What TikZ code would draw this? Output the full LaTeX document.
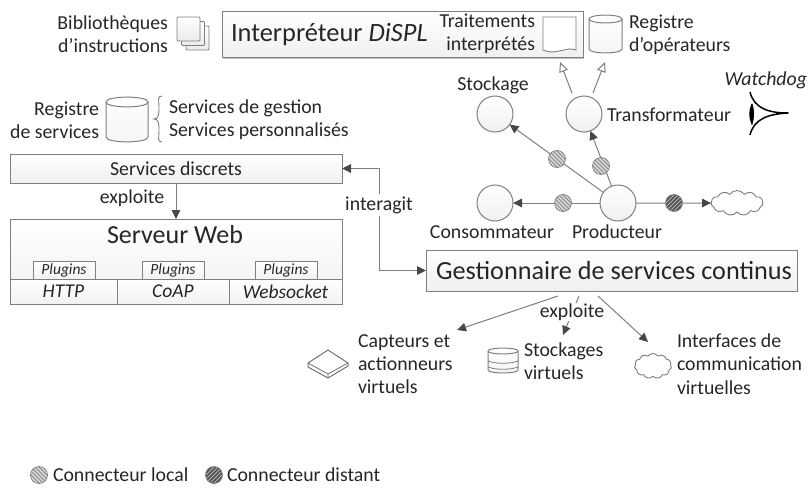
\documentclass[tikz,border=0pt]{standalone}
\usepackage{fontspec}
\setmainfont{Carlito}
\usetikzlibrary{arrows.meta,shapes.geometric,shapes.symbols,shadows,calc}
\definecolor{ln}{HTML}{7F7F7F}
\definecolor{txt}{HTML}{262626}
\newcommand{\fsz}[1]{\fontsize{#1}{23.3}\selectfont}
% left, top, right, bottom, ellipse half height
\newcommand{\cylico}[5]{%
 \draw[draw=ln,line width=1pt,top color=white,bottom color=black!4]
  (#1,#2+#5) .. controls (#1,#2-#5*.3) and (#3,#2-#5*.3) .. (#3,#2+#5) -- (#3,#4-#5)
  .. controls (#3,#4+#5*.3) and (#1,#4+#5*.3) .. (#1,#4-#5) -- cycle;
 \draw[draw=ln,line width=1pt] (#1,#2+#5) .. controls (#1,#2+#5*2.3) and (#3,#2+#5*2.3) .. (#3,#2+#5);}
\tikzset{
 x=1pt,y=-1pt,
 every node/.style={text=txt,inner sep=0pt,outer sep=0pt},
 lbl/.style={font=\fsz{19.8}},
 box/.style={draw=ln,line width=1pt,top color=white,bottom color=black!6,anchor=north west,
   general shadow={fill=black!25,shadow xshift=1pt,shadow yshift=-1pt}},
 flat/.style={draw=ln,line width=1pt,top color=white,bottom color=black!5,anchor=north west},
 round/.style={circle,draw=ln,line width=1pt,minimum size=36pt,top color=white,bottom color=black!6},
 conn/.style={->,>={Triangle[length=9pt,width=8.5pt,color=black!72]},draw=ln,line width=1pt},
 hollow/.style={-{Triangle[open,length=10pt,width=9pt,fill=white]},draw=ln,line width=1pt},
 hatchl/.style={circle,minimum size=17pt,draw=ln,line width=.7pt,fill=black!12,
   path picture={\foreach \k in {-30,-26,...,10}{\draw[line width=1.4pt,black!42]
     ([xshift=\k pt,yshift=14pt]path picture bounding box.center) -- ([xshift=\k pt+28pt,yshift=-14pt]path picture bounding box.center);}}},
 hatchd/.style={circle,minimum size=17pt,draw=ln,line width=.7pt,fill=black!68,
   path picture={\foreach \k in {-30,-26,...,10}{\draw[line width=1pt,black!30]
     ([xshift=\k pt+28pt,yshift=14pt]path picture bounding box.center) -- ([xshift=\k pt,yshift=-14pt]path picture bounding box.center);}}},
 nuage/.style={cloud,cloud puffs=11,cloud puff arc=110,aspect=2,draw=ln,line width=.9pt,fill=white},
}
\begin{document}
\begin{tikzpicture}
\useasboundingbox (0,0) rectangle (808,487);
% Interpreter
\node[box,minimum width=361pt,minimum height=46pt] (interp) at (222,12) {};
\node[anchor=west,font=\fsz{26.4}] (interpt) at (231,35) {Interpréteur \textit{DiSPL}};
\node[lbl,anchor=east,align=right] (trait) at (535,34) {Traitements\\interprétés};
\draw[draw=ln,line width=.9pt,fill=white] (543,17) -- (576,17) -- (576,50) .. controls (566,46) and (556,56) .. (543,50) -- cycle;
\cylico{589}{15}{622}{53}{4}
\node[lbl,anchor=west,align=left] (regopt) at (629,35) {Registre\\d’opérateurs};
% Library
\node[lbl,anchor=east,align=right] (bib) at (168,34) {Bibliothèques\\d’instructions};
\foreach \d in {2,1,0}{
 \draw[draw=ln,line width=.9pt,rounded corners=1pt,top color=white,bottom color=black!8]
  ($(177,17)+(\d*4.5,\d*4.5)$) rectangle ($(200,41)+(\d*4.5,\d*4.5)$);}
% Service registry
\node[lbl,anchor=east,align=right] (regs) at (99,120) {Registre\\de services};
\cylico{106}{97}{148}{142}{5}
\draw[draw=ln,line width=.9pt] (162,96) .. controls (157,96) and (159,100) .. (159,108) .. controls (159,116) and (158,119) .. (154,119) .. controls (158,119) and (159,122) .. (159,130) .. controls (159,138) and (157,142) .. (162,142);
\node[lbl,anchor=west,align=left] (servs) at (169,120) {Services de gestion\\Services personnalisés};
% Left stack
\node[box,minimum width=332pt,minimum height=29pt,font=\fsz{19.8}] (sd) at (10,154) {Services discrets};
\node[box,minimum width=332pt,minimum height=85pt] (web) at (10,219) {};
\node[font=\fsz{26}] (webt) at (175,235) {Serveur Web};
\foreach \n/\xa in {pa/33,pb/142,pc/255}{
 \node[flat,minimum width=62pt,minimum height=18pt,font=\fsz{15.5}\itshape] (\n) at (\xa,261) {Plugins};}
\node[flat,minimum width=107pt,minimum height=25pt,font=\fsz{19.5}\itshape] (http) at (10,279) {HTTP};
\node[flat,minimum width=112pt,minimum height=25pt,font=\fsz{19.5}\itshape] (coap) at (117,279) {CoAP};
\node[flat,minimum width=113pt,minimum height=25pt,font=\fsz{19.5}\itshape] (ws) at (229,279) {Websocket};
\draw[conn] (sd.south -| 176,183) -- (web.north -| 176,219);
\node[lbl] (exp1) at (132,198) {exploite};
% Gestionnaire
\node[box,minimum width=371pt,minimum height=41pt] (gest) at (426,250) {};
\node[anchor=center,font=\fsz{26.2}] (gestt) at (614,270) {Gestionnaire de services continus};
\node[lbl,fill=white,inner sep=2pt] (inter) at (379,205) {interagit};
\draw[conn] (inter.north) |- (sd.east);
\draw[conn] (inter.south) |- (gest.west);
% Operators
\node[round] (stock) at (495,114) {};
\node[round] (trans) at (584,114) {};
\node[round] (cons) at (495,203) {};
\node[round] (prod) at (618,203) {};
\node[nuage,minimum width=52pt,minimum height=25pt] (nu) at (737,203) {};
\draw[conn] (prod) -- (stock);
\draw[conn] (prod) -- (trans);
\draw[conn] (prod) -- (cons);
\draw[conn] (prod) -- (nu);
\node[hatchl] (c1) at (557,159) {};
\node[hatchl] (c2) at (601,166) {};
\node[hatchl] (c3) at (563,203) {};
\node[hatchd] (c4) at (674,203) {};
\coordinate (h1) at (572,93); \coordinate (h1e) at (560,62);
\coordinate (h2) at (593,93); \coordinate (h2e) at (605,62);
\draw[hollow] (h1) -- (h1e);
\draw[hollow] (h2) -- (h2e);
\node[lbl] (st) at (493,85) {Stockage};
\node[lbl,anchor=west] (tr) at (607,115) {Transformateur};
\node[lbl] (co) at (492,232) {Consommateur};
\node[lbl] (pr) at (617,232) {Producteur};
\node[lbl,anchor=east] (wd) at (807,80) {\textit{Watchdog}};
\draw[black,line width=1.5pt,line join=round] (750,92) .. controls (754,108) and (768,113) .. (788,113) .. controls (768,114) and (754,119) .. (750,135);
\draw[black,line width=1pt,fill=black] (752,104) .. controls (749,110) and (749,118) .. (752,124) .. controls (754,118) and (754,110) .. (752,104);
% Bottom
\coordinate (b1) at (558,296); \coordinate (b2) at (579,296); \coordinate (b3) at (598,296);
\coordinate (e1) at (457,330); \coordinate (e2) at (563,335); \coordinate (e3) at (648,342);
\draw[conn] (b1) -- (e1);
\draw[conn] (b2) -- (e2);
\draw[conn] (b3) -- (e3);
\node[lbl,fill=white,inner sep=1pt] (exp2) at (572,312) {exploite};
\draw[draw=ln!90!black,line width=1pt,fill=white,line join=round] (308,363) -- (328,350) -- (348,363) -- (348,366) -- (328,378) -- (308,367) -- cycle;
\draw[draw=ln!90!black,line width=.8pt] (308,363) -- (328,374) -- (348,363) (328,374) -- (328,378);
\node[lbl,anchor=west,align=left] (cap) at (358,364) {Capteurs et\\actionneurs\\virtuels};
\cylico{488}{348}{518}{373}{3}
\draw[draw=ln,line width=.8pt] (488,361) .. controls (495,364) and (511,364) .. (518,361);
\draw[draw=ln,line width=.8pt] (488,367) .. controls (495,370) and (511,370) .. (518,367);
\node[lbl,anchor=west,align=left] (sto) at (524,361) {Stockages\\virtuels};
\node[nuage,minimum width=37pt,minimum height=25pt] (nu2) at (653,366) {};
\node[lbl,anchor=west,align=left] (itf) at (677,364) {Interfaces de\\communication\\virtuelles};
% Legend
\node[hatchl] (l1) at (39,475) {};
\node[lbl,anchor=west] (l1t) at (53,475) {Connecteur local};
\node[hatchd] (l2) at (214,475) {};
\node[lbl,anchor=west] (l2t) at (227,475) {Connecteur distant};
\end{tikzpicture}
\end{document}
